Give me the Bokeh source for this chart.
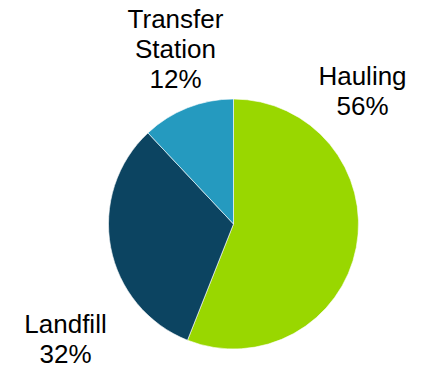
from bokeh.plotting import figure
from bokeh.models import ColumnDataSource, Range1d
from bokeh.core.properties import value
from bokeh.embed import file_html
from bokeh.resources import INLINE
import math

categories = ["Hauling", "Landfill", "Transfer Station"]
percent = [56, 32, 12]
colors = ["#99D700", "#0C4461", "#259ABF"]
# label anchors (pixel, baseline of last line), layout only
label_x = [362, 65, 175]
label_y = [115, 363, 88]

W, H = 429, 370
cx, cy, r = 233, 223.5, 125
LINE = 30
BASE_FIX = 10

p = figure(width=W, height=H, output_backend="svg", toolbar_location=None,
           x_range=Range1d(0, W), y_range=Range1d(0, H), min_border=0)
p.axis.visible = False
p.grid.visible = False
p.outline_line_color = None
p.background_fill_color = "white"
p.border_fill_color = "white"

starts, ends = [], []
a = math.pi / 2
for v in percent:
    starts.append(a)
    a = a - v / 100 * 2 * math.pi
    ends.append(a)

src = ColumnDataSource(dict(start=starts, end=ends, color=colors))
p.wedge(x=cx, y=H - cy, radius=r, radius_units="screen", start_angle="start", end_angle="end",
        direction="clock", fill_color="color", line_color="white", line_width=0.6, source=src)

tx, ty, tt = [], [], []
for cat, v, lx, ly in zip(categories, percent, label_x, label_y):
    lines = cat.split(" ") + [f"{v}%"]
    n = len(lines)
    for i, ln in enumerate(lines):
        tx.append(lx)
        ty.append(H - (ly - BASE_FIX - (n - 1 - i) * LINE))
        tt.append(ln)

p.text(x=tx, y=ty, text=tt, text_font=value("Liberation Sans"), text_font_size="26px",
       text_align="center", text_baseline="alphabetic", text_color="#000000")

open("out.html", "w").write(file_html(p, INLINE))
